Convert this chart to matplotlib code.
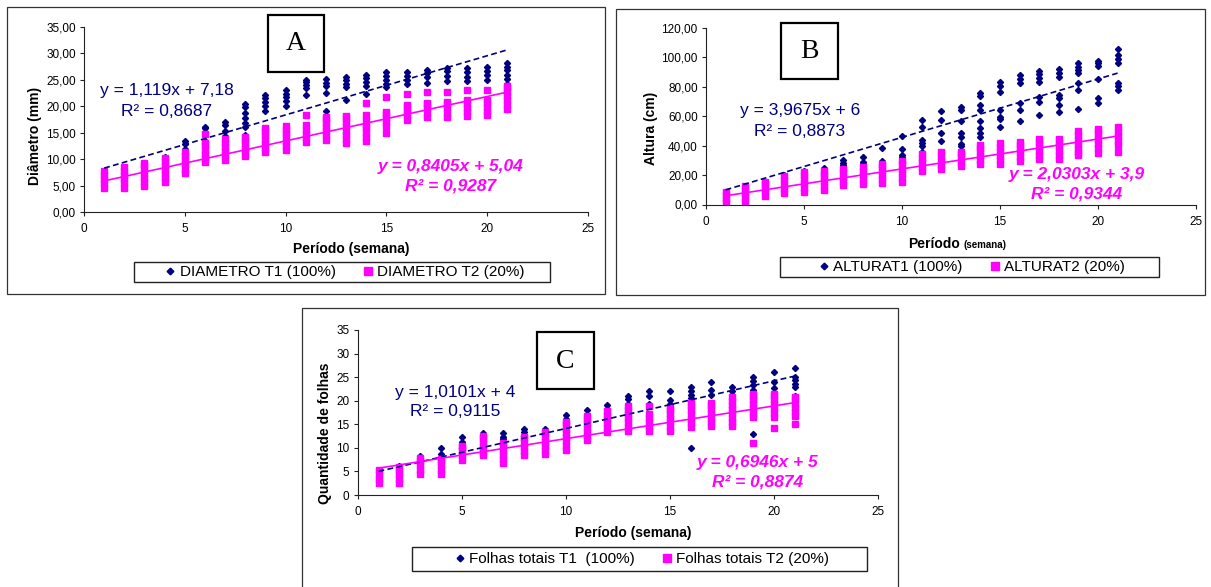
import numpy as np
import matplotlib
matplotlib.use("Agg")
import matplotlib.pyplot as plt
from matplotlib.patches import Rectangle
from matplotlib.lines import Line2D
from matplotlib.ticker import FuncFormatter, MultipleLocator

plt.rcParams["font.family"] = ["Liberation Sans", "DejaVu Sans"]

NAVY = "#000080"
PINK = "#FF00FF"
W, H = 1211, 587

weeks = list(range(1, 22))

# ---- A: Diametro (mm), one list of plant values per week ----
diam_t1 = [
    [6.0, 7.0], [6.5, 7.5], [7.0, 8.5], [8.5, 10.4], [7.6, 11.0, 12.0, 12.8, 13.4],
    [13.5, 15.2, 15.8, 16.0], [14.3, 15.3, 16.5, 17.0], [14.6, 16.0, 16.8, 17.8, 18.8, 19.8, 20.5],
    [19.2, 20.0, 20.8, 21.5, 22.2], [20.0, 21.0, 21.8, 22.4, 23.0], [22.2, 23.4, 24.0, 24.6, 25.0],
    [19.2, 22.6, 23.8, 24.5, 25.2], [21.1, 23.6, 24.3, 25.0, 25.6], [22.3, 23.8, 24.6, 25.3, 26.0],
    [23.6, 24.3, 25.0, 25.7, 26.4], [24.2, 25.0, 25.7, 26.4], [24.5, 25.6, 26.3, 26.9],
    [24.8, 25.8, 26.6, 27.2], [24.8, 25.6, 26.5, 27.2], [25.0, 25.9, 26.7, 27.4],
    [24.3, 25.2, 26.0, 26.8, 27.5, 28.2],
]
diam_t2 = [
    [4.6, 5.4, 6.2, 7.0, 7.8], [4.6, 5.4, 6.2, 7.0, 7.8, 8.5], [4.9, 5.7, 6.5, 7.3, 8.1, 8.8, 9.3],
    [5.6, 6.4, 7.2, 8.0, 8.8, 9.6, 10.2], [7.4, 8.2, 9.0, 9.8, 10.6, 11.3],
    [9.4, 10.2, 11.0, 11.8, 12.6, 13.0, 14.8], [9.9, 10.7, 11.5, 12.3, 13.1, 13.8],
    [10.6, 11.4, 12.2, 13.0, 13.6, 14.1], [11.3, 12.1, 12.9, 13.7, 14.5, 15.3, 15.9],
    [11.7, 12.5, 13.3, 14.1, 14.9, 15.6, 16.2], [13.2, 14.0, 14.8, 15.6, 16.4, 18.4],
    [13.7, 14.5, 15.3, 16.1, 16.9, 17.6, 18.0], [13.0, 13.8, 14.6, 15.4, 16.2, 17.0, 17.7, 18.2],
    [13.5, 14.2, 15.0, 15.8, 16.3, 17.5, 18.3, 20.6], [14.9, 16.2, 17.0, 17.8, 18.6, 19.0, 21.7],
    [17.5, 18.3, 19.1, 19.8, 20.2, 22.3], [18.0, 18.8, 19.6, 20.4, 20.7, 22.7],
    [18.0, 18.8, 19.6, 20.4, 20.9, 22.7], [18.1, 18.9, 19.7, 20.5, 21.1, 23.0],
    [18.3, 19.1, 19.9, 20.7, 21.1, 23.0], [19.5, 20.3, 21.1, 21.9, 22.7, 23.5, 23.9],
]
diam_fit1 = (1.119, 7.18)
diam_fit2 = (0.8405, 5.04)

# ---- B: Altura (cm) ----
alt_t1 = [
    [5.0, 8.0], [8.0, 11.0], [12.0, 15.5], [16.0, 20.0], [20.0, 23.0], [21.5, 24.5],
    [25.7, 27.0, 28.5, 30.2], [27.5, 29.0, 32.5], [29.8, 38.2], [32.0, 33.6, 37.5, 46.6],
    [35.5, 39.5, 42.0, 44.0, 52.5, 57.5], [36.0, 43.4, 48.4, 57.5, 63.5],
    [34.8, 39.8, 41.0, 46.1, 48.4, 57.0, 64.3, 66.1], [45.7, 48.4, 51.8, 57.0, 64.3, 67.7, 73.9, 75.7],
    [52.5, 58.0, 59.8, 64.3, 76.8, 80.7, 83.0], [57.0, 64.3, 68.9, 82.5, 85.5, 88.0],
    [60.9, 69.8, 73.0, 83.6, 86.1, 89.0, 91.0], [63.2, 67.7, 72.3, 74.5, 86.5, 89.5, 92.0],
    [64.8, 78.0, 82.5, 89.3, 91.5, 93.5, 96.5], [69.3, 72.3, 85.2, 94.0, 96.0, 97.5],
    [78.0, 80.5, 82.5, 96.1, 98.9, 101.4, 106.0],
]
alt_t2 = [
    [1.5, 4.0, 6.5, 8.5], [2.0, 5.0, 8.0, 10.5, 12.5], [5.5, 8.5, 11.5, 14.0, 15.3],
    [7.5, 10.5, 13.5, 16.5, 19.2], [8.5, 11.5, 14.5, 17.5, 20.0, 22.0],
    [9.8, 12.8, 15.8, 18.8, 21.0, 22.8], [13.0, 16.0, 19.0, 22.0, 24.2],
    [14.0, 17.0, 20.0, 23.0, 25.4], [14.3, 17.3, 20.3, 23.3, 26.0, 27.7],
    [15.2, 18.2, 21.2, 24.2, 27.2, 29.9], [22.8, 25.8, 28.8, 31.8, 34.5],
    [23.8, 26.8, 29.8, 32.8, 35.6], [26.0, 29.0, 32.0, 34.5, 35.6],
    [27.2, 30.2, 33.2, 36.2, 38.5, 40.2], [27.2, 30.2, 33.2, 36.2, 39.2, 41.7],
    [29.5, 32.5, 35.5, 38.5, 40.5, 42.4], [30.6, 33.6, 36.6, 39.6, 42.6, 44.7],
    [30.6, 33.6, 36.6, 39.6, 42.6, 44.7], [33.5, 35.5, 38.0, 41.0, 44.0, 47.0, 50.3],
    [35.2, 38.2, 41.2, 44.2, 47.2, 50.0, 51.5], [36.0, 40.5, 43.5, 46.5, 49.5, 52.5],
]
alt_fit1 = (3.9675, 6.0)
alt_fit2 = (2.0303, 3.9)

# ---- C: Quantidade de folhas ----
fol_t1 = [
    [4.0, 5.0], [5.0, 6.2], [7.0, 8.3], [7.5, 8.8, 10.0], [10.0, 11.3, 12.2], [11.5, 12.7, 13.1],
    [11.8, 12.4, 13.1], [12.5, 13.3, 14.0], [13.0, 14.0], [15.2, 16.2, 17.0], [16.0, 17.0, 18.0],
    [17.5, 18.2, 19.0], [18.0, 18.6, 19.4, 20.3, 21.1], [19.2, 21.0, 22.0], [19.4, 20.1, 22.0],
    [10.0, 20.5, 21.2, 22.1, 23.0], [21.2, 22.3, 24.0], [21.2, 22.1, 23.0],
    [13.0, 22.3, 23.4, 24.2, 25.0], [22.8, 24.0, 26.0], [21.0, 23.0, 23.6, 24.3, 25.0, 27.0],
]
fol_t2 = [
    [2.6, 3.5, 4.4, 5.3], [2.6, 3.5, 4.4, 5.3, 5.9], [4.5, 5.4, 6.3, 7.2, 7.9],
    [4.5, 5.4, 6.3, 7.2, 7.7], [7.5, 8.4, 9.3, 10.2, 10.5], [8.4, 9.3, 10.2, 11.1, 12.0, 12.5],
    [6.7, 7.6, 8.5, 9.4, 10.3, 11.1], [8.4, 9.3, 10.2, 11.1, 12.0, 12.2],
    [8.6, 9.5, 10.4, 11.3, 12.2, 13.1, 13.4], [9.6, 10.5, 11.4, 12.3, 13.2, 14.1, 15.0, 15.4],
    [11.6, 12.5, 13.4, 14.3, 15.2, 16.1, 16.8], [13.4, 14.3, 15.2, 16.1, 17.0, 17.8],
    [13.6, 14.5, 15.4, 16.3, 17.2, 18.1, 18.9], [13.6, 14.5, 15.4, 16.3, 17.1, 18.8],
    [13.6, 14.5, 15.4, 16.3, 17.2, 18.1, 18.5], [14.4, 15.3, 16.2, 17.1, 18.0, 18.9, 19.6],
    [14.6, 15.5, 16.4, 17.3, 18.2, 19.1, 19.5], [14.6, 15.5, 16.4, 17.3, 18.2, 19.1, 20.0, 20.7],
    [11.1, 16.6, 17.5, 18.4, 19.3, 20.2, 21.1, 21.4], [14.2, 16.6, 17.5, 18.4, 19.3, 20.2, 21.1, 21.4],
    [15.1, 16.7, 17.6, 18.5, 19.4, 20.3, 20.7],
]
fol_fit1 = (1.0101, 4.0)
fol_fit2 = (0.6946, 5.0)

fig = plt.figure(figsize=(W / 100, H / 100), dpi=100)


def fx(px):
    return px / W


def fy(py):
    return 1 - py / H


def box(l, t, r, b, lw=0.9, color="#333333"):
    fig.add_artist(Rectangle((fx(l), fy(b)), fx(r) - fx(l), fy(t) - fy(b),
                             transform=fig.transFigure, fill=False, lw=lw, edgecolor=color))


def ftext(px, py, s, **kw):
    fig.text(fx(px), fy(py), s, ha=kw.pop("ha", "center"), va=kw.pop("va", "center"), **kw)


def comma2(v, pos):
    return f"{v:.2f}".replace(".", ",")


def panel(rect, t1, t2, fit1, fit2, ymax, ystep, fmt):
    l, t, r, b = rect
    ax = fig.add_axes([fx(l), fy(b), fx(r) - fx(l), fy(t) - fy(b)])
    x1 = [w for w, vals in zip(weeks, t1) for v in vals]
    y1 = [v for vals in t1 for v in vals]
    x2 = [w for w, vals in zip(weeks, t2) for v in vals]
    y2 = [v for vals in t2 for v in vals]
    ax.plot(x1, y1, "D", ms=3.1, color=NAVY, ls="none")
    ax.plot(x2, y2, "s", ms=4.8, color=PINK, ls="none")
    xs = np.array([weeks[0], weeks[-1]])
    ax.plot(xs, fit1[0] * xs + fit1[1], color=NAVY, ls=(0, (3.5, 2)), lw=1.2)
    ax.plot(xs, fit2[0] * xs + fit2[1], color=PINK, lw=1.2)
    ax.set_xlim(0, 25)
    ax.set_ylim(0, ymax)
    ax.xaxis.set_major_locator(MultipleLocator(5))
    ax.yaxis.set_major_locator(MultipleLocator(ystep))
    if fmt is not None:
        ax.yaxis.set_major_formatter(FuncFormatter(fmt))
    for s in ["top", "right"]:
        ax.spines[s].set_visible(False)
    for s in ["left", "bottom"]:
        ax.spines[s].set_linewidth(0.8)
        ax.spines[s].set_color("#222222")
    ax.tick_params(direction="out", length=3, width=0.8, labelsize=8.5, color="#222222")
    ax.tick_params(axis="x", pad=5)
    ax.tick_params(axis="y", pad=3)
    ax.patch.set_alpha(0)
    return ax


def legend(ax, labels, cx, cy, frame):
    h = [Line2D([], [], marker="D", ms=3.4, color=NAVY, ls="none"),
         Line2D([], [], marker="s", ms=6, color=PINK, ls="none")]
    ax.legend(h, labels, loc="center", bbox_to_anchor=(fx(cx), fy(cy)),
              bbox_transform=fig.transFigure, ncol=2, frameon=False, fontsize=11,
              handlelength=0.6, handletextpad=0.3, columnspacing=1.8, borderpad=0)
    box(*frame, lw=1.0, color="#222222")


# panel frames
box(7, 7, 605, 294)
box(616, 9, 1205, 295)
box(302, 308, 898, 600)

# ---- A ----
axA = panel((84, 27, 588, 212), diam_t1, diam_t2, diam_fit1, diam_fit2, 35, 5, comma2)
ftext(351, 249, "Período (semana)", fontsize=10, fontweight="bold")
ftext(35, 136, "Diâmetro (mm)", fontsize=10, fontweight="bold", rotation=90)
ftext(167, 91, "y = 1,119x + 7,18", fontsize=12.5, color=NAVY)
ftext(167, 111, "R² = 0,8687", fontsize=12.5, color=NAVY)
ftext(451, 166, "y = 0,8405x + 5,04", fontsize=12.5, color=PINK, fontweight="bold", style="italic")
ftext(451, 186, "R² = 0,9287", fontsize=12.5, color=PINK, fontweight="bold", style="italic")
legend(axA, ["DIAMETRO T1 (100%)", "DIAMETRO T2 (20%)"], 345, 272, (134, 262, 550, 282))
box(268, 15, 324, 72, lw=1.6, color="black")
ftext(296, 44, "A", fontsize=20, family="Liberation Serif")

# ---- B ----
axB = panel((706, 28, 1196, 204.5), alt_t1, alt_t2, alt_fit1, alt_fit2, 120, 20, comma2)
ftext(960, 248, "Período", fontsize=10, fontweight="bold", ha="right", va="baseline")
ftext(963, 248, "(semana)", fontsize=7, fontweight="bold", ha="left", va="baseline")
ftext(651, 128, "Altura (cm)", fontsize=10, fontweight="bold", rotation=90)
ftext(800, 111, "y = 3,9675x + 6", fontsize=12.5, color=NAVY)
ftext(800, 132, "R² = 0,8873", fontsize=12.5, color=NAVY)
ftext(1077, 174, "y = 2,0303x + 3,9", fontsize=12.5, color=PINK, fontweight="bold", style="italic")
ftext(1077, 194, "R² = 0,9344", fontsize=12.5, color=PINK, fontweight="bold", style="italic")
legend(axB, ["ALTURAT1 (100%)", "ALTURAT2 (20%)"], 972, 267, (780, 257, 1159, 277))
box(781, 23, 838, 79, lw=1.6, color="black")
ftext(809.5, 51, "B", fontsize=20, family="Liberation Serif")

# ---- C ----
axC = panel((357.7, 330, 877.7, 495), fol_t1, fol_t2, fol_fit1, fol_fit2, 35, 5, None)
ftext(633, 533, "Período (semana)", fontsize=10, fontweight="bold")
ftext(325, 433, "Quantidade de folhas", fontsize=10, fontweight="bold", rotation=90)
ftext(455, 392, "y = 1,0101x + 4", fontsize=12.5, color=NAVY)
ftext(455, 412, "R² = 0,9115", fontsize=12.5, color=NAVY)
ftext(758, 462, "y = 0,6946x + 5", fontsize=12.5, color=PINK, fontweight="bold", style="italic")
ftext(758, 482, "R² = 0,8874", fontsize=12.5, color=PINK, fontweight="bold", style="italic")
legend(axC, ["Folhas totais T1  (100%)", "Folhas totais T2 (20%)"], 642, 559, (412, 547, 867, 571))
box(537, 332, 594, 389, lw=1.6, color="black")
ftext(565.5, 361, "C", fontsize=20, family="Liberation Serif")

fig.savefig("out.png", dpi=100)
